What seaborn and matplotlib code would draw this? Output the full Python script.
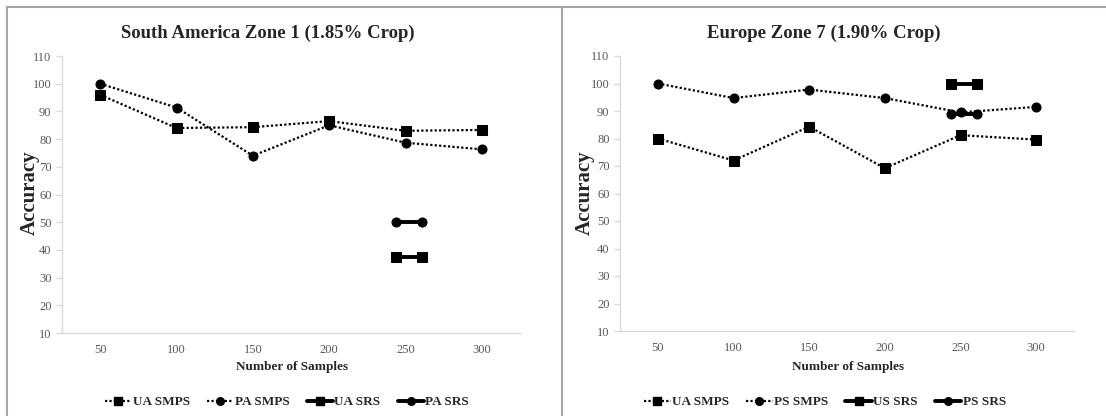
import matplotlib
matplotlib.use("Agg")
import matplotlib.pyplot as plt
import seaborn as sns
from matplotlib.lines import Line2D

samples = [50, 100, 150, 200, 250, 300]
srs_x = [244, 261]

# South America Zone 1
sa_ua_smps = [96, 84, 84.3, 86.5, 83, 83.3]
sa_pa_smps = [100, 91.4, 74, 85, 78.7, 76.3]
sa_ua_srs = [37.5, 37.5]
sa_pa_srs = [50, 50]

# Europe Zone 7
eu_ua_smps = [80, 72, 84.3, 69.2, 81.2, 79.6]
eu_ps_smps = [100, 94.7, 97.8, 94.7, 89.5, 91.5]
eu_us_srs = [100, 100]
eu_ps_srs = [89, 89]

sa_labels = ["UA SMPS", "PA SMPS", "UA SRS", "PA SRS"]
eu_labels = ["UA SMPS", "PS SMPS", "US SRS", "PS SRS"]

sns.set_style("white")
plt.rcParams["font.family"] = ["Liberation Serif", "DejaVu Serif"]

W, H = 1106, 416
fig = plt.figure(figsize=(W / 100, H / 100), dpi=100)

dot = (0, (1, 1))
AX_GRAY = "#d9d9d9"
TXT_GRAY = "#595959"


def draw_panel(rect, smps_sq, smps_ci, srs_sq, srs_ci, labels, title, title_x, ylab_x, xlab_x, leg_x):
    ax = fig.add_axes(rect)
    sns.lineplot(x=samples, y=smps_sq, ax=ax, color="black", marker="s", markersize=6.5,
                 linestyle=dot, linewidth=1.6, markeredgecolor="black")
    sns.lineplot(x=samples, y=smps_ci, ax=ax, color="black", marker="o", markersize=6.5,
                 linestyle=dot, linewidth=1.6, markeredgecolor="black")
    sns.lineplot(x=srs_x, y=srs_sq, ax=ax, color="black", marker="s", markersize=6.5,
                 linewidth=2.8, markeredgecolor="black")
    sns.lineplot(x=srs_x, y=srs_ci, ax=ax, color="black", marker="o", markersize=6.5,
                 linewidth=2.8, markeredgecolor="black")

    ax.set_xlim(25, 325)
    ax.set_ylim(10, 110)
    ax.set_yticks(range(10, 111, 10))
    ax.set_xticks(samples)
    ax.set_xticks([25, 75, 125, 175, 225, 275, 325], minor=True)
    ax.tick_params(axis="x", which="major", length=0, labelsize=9, labelcolor=TXT_GRAY, pad=8)
    ax.tick_params(axis="x", which="minor", length=4, color=AX_GRAY, width=1, direction="out")
    ax.tick_params(axis="y", length=4, color=AX_GRAY, width=1, labelsize=9,
                   labelcolor=TXT_GRAY, left=True, direction="out")
    for s in ["top", "right"]:
        ax.spines[s].set_visible(False)
    for s in ["left", "bottom"]:
        ax.spines[s].set_color(AX_GRAY)
        ax.spines[s].set_linewidth(1)

    fig.text(title_x / W, 1 - 33 / H, title, ha="center", va="center",
             fontsize=13.5, fontweight="bold")
    fig.text(ylab_x / W, 1 - 193 / H, "Accuracy", ha="center", va="center",
             rotation=90, fontsize=15, fontweight="bold")
    fig.text(xlab_x / W, 1 - 367 / H, "Number of Samples", ha="center", va="center",
             fontsize=9.5, fontweight="bold")

    handles = [
        Line2D([], [], color="black", linestyle=dot, linewidth=1.6, marker="s", markersize=5.5),
        Line2D([], [], color="black", linestyle=dot, linewidth=1.6, marker="o", markersize=5.5),
        Line2D([], [], color="black", linewidth=2.8, marker="s", markersize=5.5),
        Line2D([], [], color="black", linewidth=2.8, marker="o", markersize=5.5),
    ]
    fig.legend(handles, labels, loc="center", bbox_to_anchor=(leg_x / W, 1 - 402 / H),
               ncol=4, frameon=False, handlelength=2.0, handletextpad=0.1,
               columnspacing=1.3, prop={"weight": "bold", "size": 9.5})
    return ax


draw_panel([62 / W, 1 - 333 / H, (520 - 62) / W, (333 - 56) / H],
           sa_ua_smps, sa_pa_smps, sa_ua_srs, sa_pa_srs, sa_labels,
           "South America Zone 1 (1.85% Crop)", 268, 30, 292, 287)
draw_panel([620 / W, 1 - 331 / H, (1074 - 620) / W, (331 - 56) / H],
           eu_ua_smps, eu_ps_smps, eu_us_srs, eu_ps_srs, eu_labels,
           "Europe Zone 7 (1.90% Crop)", 824, 585, 848, 825)

# chart frames
FRAME = "#a6a6a6"
fig.add_artist(Line2D([7 / W, 1], [1 - 7 / H, 1 - 7 / H], color=FRAME, linewidth=1.5))
fig.add_artist(Line2D([7 / W, 7 / W], [0, 1 - 7 / H], color=FRAME, linewidth=1.5))
fig.add_artist(Line2D([562 / W, 562 / W], [0, 1 - 7 / H], color=FRAME, linewidth=1.5))

fig.savefig("out.png", dpi=100)
